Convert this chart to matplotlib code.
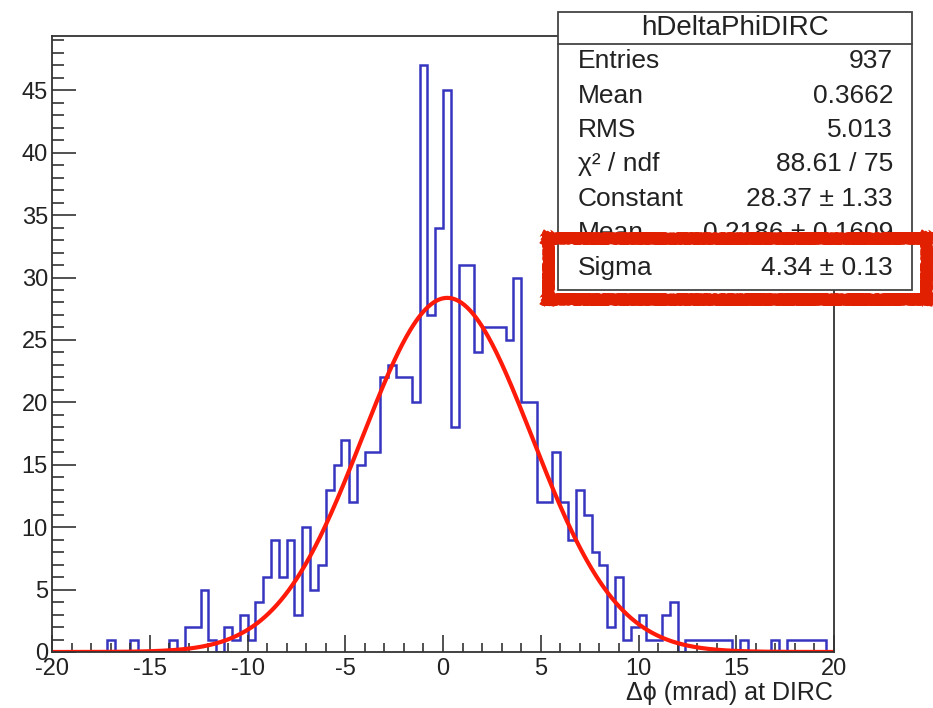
import numpy as np
import matplotlib
matplotlib.use("Agg")
import matplotlib.pyplot as plt
from matplotlib.patches import Rectangle
from matplotlib.ticker import MultipleLocator

plt.rcParams['font.family'] = ['Liberation Sans', 'DejaVu Sans']
plt.rcParams['axes.unicode_minus'] = False

# ---- data ----
x_min, x_max, n_bins = -20.0, 20.0, 100
counts = [0, 0, 0, 0, 0, 0, 0, 1, 0, 0,
          1, 0, 0, 0, 0, 1, 0, 2, 2, 5,
          1, 0, 2, 1, 3, 1, 4, 6, 9, 6,
          9, 3, 10, 5, 7, 13, 15, 17, 12, 15,
          16, 16, 22, 23, 22, 22, 20, 47, 27, 34,
          45, 18, 31, 31, 24, 26, 26, 26, 25, 30,
          20, 20, 12, 12, 16, 12, 9, 13, 11, 8,
          7, 2, 6, 1, 2, 3, 1, 1, 3, 4,
          0, 1, 1, 1, 1, 1, 1, 0, 1, 0,
          0, 0, 1, 0, 1, 1, 1, 1, 1, 0]
fit_const, fit_mean, fit_sigma = 28.37, 0.2186, 4.34
stat_labels = ["Entries", "Mean", "RMS", "\u03c7\u00b2 / ndf", "Constant", "Mean", "Sigma"]
stat_values = ["937", "0.3662", "5.013", "88.61 / 75", "28.37 \u00b1 1.33",
               "0.2186 \u00b1 0.1609", "4.34 \u00b1 0.13"]
hist_name = "hDeltaPhiDIRC"
x_label = "\u0394\u03d5 (mrad) at DIRC"

W, H = 933, 708
fig = plt.figure(figsize=(W / 100, H / 100), dpi=100)
ax = fig.add_axes([52 / W, 1 - 652 / H, (834 - 52) / W, (652 - 36) / H])

edges = np.linspace(x_min, x_max, n_bins + 1)
ax.stairs(counts, edges, color='#3535c0', lw=1.8)

xs = np.linspace(x_min, x_max, 800)
ax.plot(xs, fit_const * np.exp(-0.5 * ((xs - fit_mean) / fit_sigma) ** 2),
        color='#ff1a0a', lw=3.0)

ax.set_xlim(x_min, x_max)
ax.set_ylim(0, 49.35)
ax.xaxis.set_major_locator(MultipleLocator(5))
ax.xaxis.set_minor_locator(MultipleLocator(1))
ax.yaxis.set_major_locator(MultipleLocator(5))
ax.yaxis.set_minor_locator(MultipleLocator(1))
ax.tick_params(axis='both', which='both', direction='in', top=False, right=False,
               labelsize=17, color='#333333', width=1.2, labelcolor='#222222')
ax.tick_params(axis='y', which='major', length=17, pad=3)
ax.tick_params(axis='y', which='minor', length=8.5)
ax.tick_params(axis='x', which='major', length=12, pad=4)
ax.tick_params(axis='x', which='minor', length=6.5)
for s in ax.spines.values():
    s.set_linewidth(1.3)
    s.set_color('#333333')

fig.text(833 / W, 1 - 693 / H, x_label, ha='right', va='center', fontsize=18, color='#222222')

# ---- stats box ----
bl, br, bt, bb = 558 / W, 912 / W, 1 - 12 / H, 1 - 290 / H
fig.patches.append(Rectangle((bl, bb), br - bl, bt - bb, transform=fig.transFigure,
                             facecolor='white', edgecolor='#444444', lw=1.3, zorder=5))
fig.add_artist(plt.Line2D([bl, br], [1 - 44 / H, 1 - 44 / H], transform=fig.transFigure,
                          color='#444444', lw=1.3, zorder=6))
fig.text((bl + br) / 2, 1 - 28 / H, hist_name, ha='center', va='center', fontsize=20,
         color='#222222', zorder=7)
row_y = [61, 96, 130, 164, 199, 233, 268]
for lab, val, yy in zip(stat_labels, stat_values, row_y):
    fig.text(578 / W, 1 - yy / H, lab, ha='left', va='center', fontsize=19,
             color='#222222', zorder=7)
    fig.text(893 / W, 1 - yy / H, val, ha='right', va='center', fontsize=19,
             color='#222222', zorder=7)

# ---- red highlight scribble (four rough strokes) ----
L, R, T, B = 548, 926, 238, 299
strokes = [((L - 6, T), (R + 6, T)), ((L - 6, B), (R + 6, B)),
           ((L, T - 6), (L, B + 6)), ((R, T - 6), (R, B + 6))]
for (x0, y0), (x1, y1) in strokes:
    for off, lw in [(0, 8), (2, 5), (-2, 5)]:
        if y0 == y1:
            xx, yy = [x0, x1], [y0 + off, y1 + off]
        else:
            xx, yy = [x0 + off, x1 + off], [y0, y1]
        ln = plt.Line2D([v / W for v in xx], [1 - v / H for v in yy],
                        transform=fig.transFigure, color='#e02000', lw=lw,
                        solid_capstyle='butt', zorder=8)
        ln.set_sketch_params(scale=1.0, length=4, randomness=2)
        fig.add_artist(ln)

fig.savefig("out.png", dpi=100)
